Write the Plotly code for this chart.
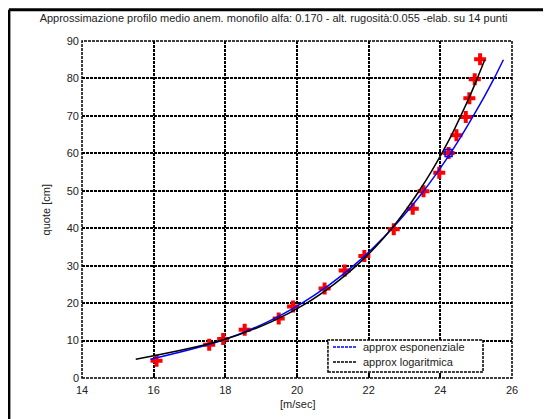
import plotly.graph_objects as go

# measured points (wind speed m/s, height cm)
meas_u = [16.08, 17.55, 17.94, 18.54, 19.49, 19.89, 20.77, 21.33, 21.88, 22.70,
          23.23, 23.53, 23.97, 24.23, 24.45, 24.71, 24.81, 24.96, 25.11]
meas_z = [4.6, 8.9, 10.4, 12.9, 15.9, 19.1, 23.9, 28.7, 32.6, 39.7,
          45.2, 49.9, 54.8, 60.1, 64.8, 69.7, 74.7, 79.8, 85.1]

# curves
curve_z = [5, 10, 15, 20, 25, 30, 35, 40, 45, 50, 55, 60, 65, 70, 75, 80, 85]
exp_u = [15.91, 17.90, 19.18, 20.14, 20.92, 21.58, 22.15, 22.66, 23.12, 23.54,
         23.92, 24.28, 24.61, 24.92, 25.22, 25.50, 25.76]
log_u = [15.50, 17.88, 19.28, 20.27, 21.03, 21.66, 22.19, 22.65, 23.05, 23.41,
         23.74, 24.04, 24.32, 24.57, 24.81, 25.03, 25.24]

ref_u = [24.23]
ref_z = [60.1]

x_ticks = [14, 16, 18, 20, 22, 24, 26]
y_ticks = [0, 10, 20, 30, 40, 50, 60, 70, 80, 90]

series_names = ["approx esponenziale", "approx logaritmica"]
series_colors = ["#0000ff", "#000000"]

title = "Approssimazione profilo medio anem. monofilo alfa: 0.170 - alt. rugosità:0.055 -elab. su 14 punti"

FONT = "Arial, Liberation Sans, sans-serif"
TXT = "#222222"

fig = go.Figure()
fig.add_trace(go.Scatter(x=meas_u, y=meas_z, mode="markers", showlegend=False,
                         marker=dict(symbol="cross", size=10, color="#ff0000",
                                     line=dict(width=0))))
fig.add_trace(go.Scatter(x=ref_u, y=ref_z, mode="markers", showlegend=False,
                         marker=dict(symbol="square-open", size=7, color="#0000ff",
                                     line=dict(width=1.5, color="#0000ff"))))
fig.add_trace(go.Scatter(x=exp_u, y=curve_z, mode="lines", name=series_names[0],
                         showlegend=False,
                         line=dict(color=series_colors[0], width=1.5, shape="spline")))
fig.add_trace(go.Scatter(x=log_u, y=curve_z, mode="lines", name=series_names[1],
                         showlegend=False,
                         line=dict(color=series_colors[1], width=1.5, shape="spline")))

grid = dict(showgrid=True, gridcolor="black", gridwidth=1.5, griddash="3px,1px",
            zeroline=False, showline=False, ticks="inside", ticklen=3,
            tickwidth=2, tickcolor="black",
            tickfont=dict(family=FONT, size=11, color=TXT))

# page has an 8px body margin; figure is sized to fill the rest of the window
fig.update_layout(
    width=543, height=411,
    margin=dict(l=74, r=39, t=33, b=41),
    paper_bgcolor="white", plot_bgcolor="white",
    title=dict(text=title, x=0.489, xanchor="center", y=0.976, yanchor="middle",
               font=dict(family=FONT, size=11, color=TXT)),
    xaxis=dict(range=[14, 26], tickvals=x_ticks, ticktext=[str(v) for v in x_ticks],
               ticklabelstandoff=4, **grid),
    yaxis=dict(range=[0, 90], tickvals=y_ticks, ticktext=[str(v) for v in y_ticks],
               ticklabelstandoff=2, **grid),
    showlegend=False,
)

# axis titles
fig.add_annotation(text="[m/sec]", xref="paper", yref="paper", x=0.5, y=-0.076,
                   showarrow=False, xanchor="center", yanchor="middle",
                   font=dict(family=FONT, size=11, color=TXT))
fig.add_annotation(text="quote [cm]", xref="paper", yref="paper", x=-0.084, y=0.5,
                   showarrow=False, xanchor="center", yanchor="middle", textangle=-90,
                   font=dict(family=FONT, size=11, color=TXT))

# dashed plot frame
fig.add_shape(type="rect", xref="x domain", yref="y domain", x0=0, x1=1, y0=0, y1=1,
              line=dict(color="black", width=1.5, dash="3px,1px"), layer="above")

# legend box
fig.add_shape(type="rect", xref="paper", yref="paper", x0=0.572, x1=0.9326,
              y0=0.0178, y1=0.1128, fillcolor="white",
              line=dict(color="black", width=1.5, dash="3px,1px"), layer="above")
leg_y = [0.092, 0.0475]
for name, col, yy in zip(series_names, series_colors, leg_y):
    fig.add_shape(type="line", xref="paper", yref="paper", x0=0.5837, x1=0.6395,
                  y0=yy, y1=yy, line=dict(color=col, width=1.5, dash="3px,1px"),
                  layer="above")
    fig.add_annotation(text=name, xref="paper", yref="paper", x=0.6488, y=yy,
                       showarrow=False, xanchor="left", yanchor="middle",
                       font=dict(family=FONT, size=11, color=TXT))

# outer window border (top & left)
fig.add_shape(type="line", xref="paper", yref="paper", x0=-0.170, x1=1.2,
              y0=1.093, y1=1.093, line=dict(color="black", width=3))
fig.add_shape(type="line", xref="paper", yref="paper", x0=-0.170, x1=-0.170,
              y0=1.093, y1=-0.2, line=dict(color="black", width=3))

fig.write_html("out.html")
